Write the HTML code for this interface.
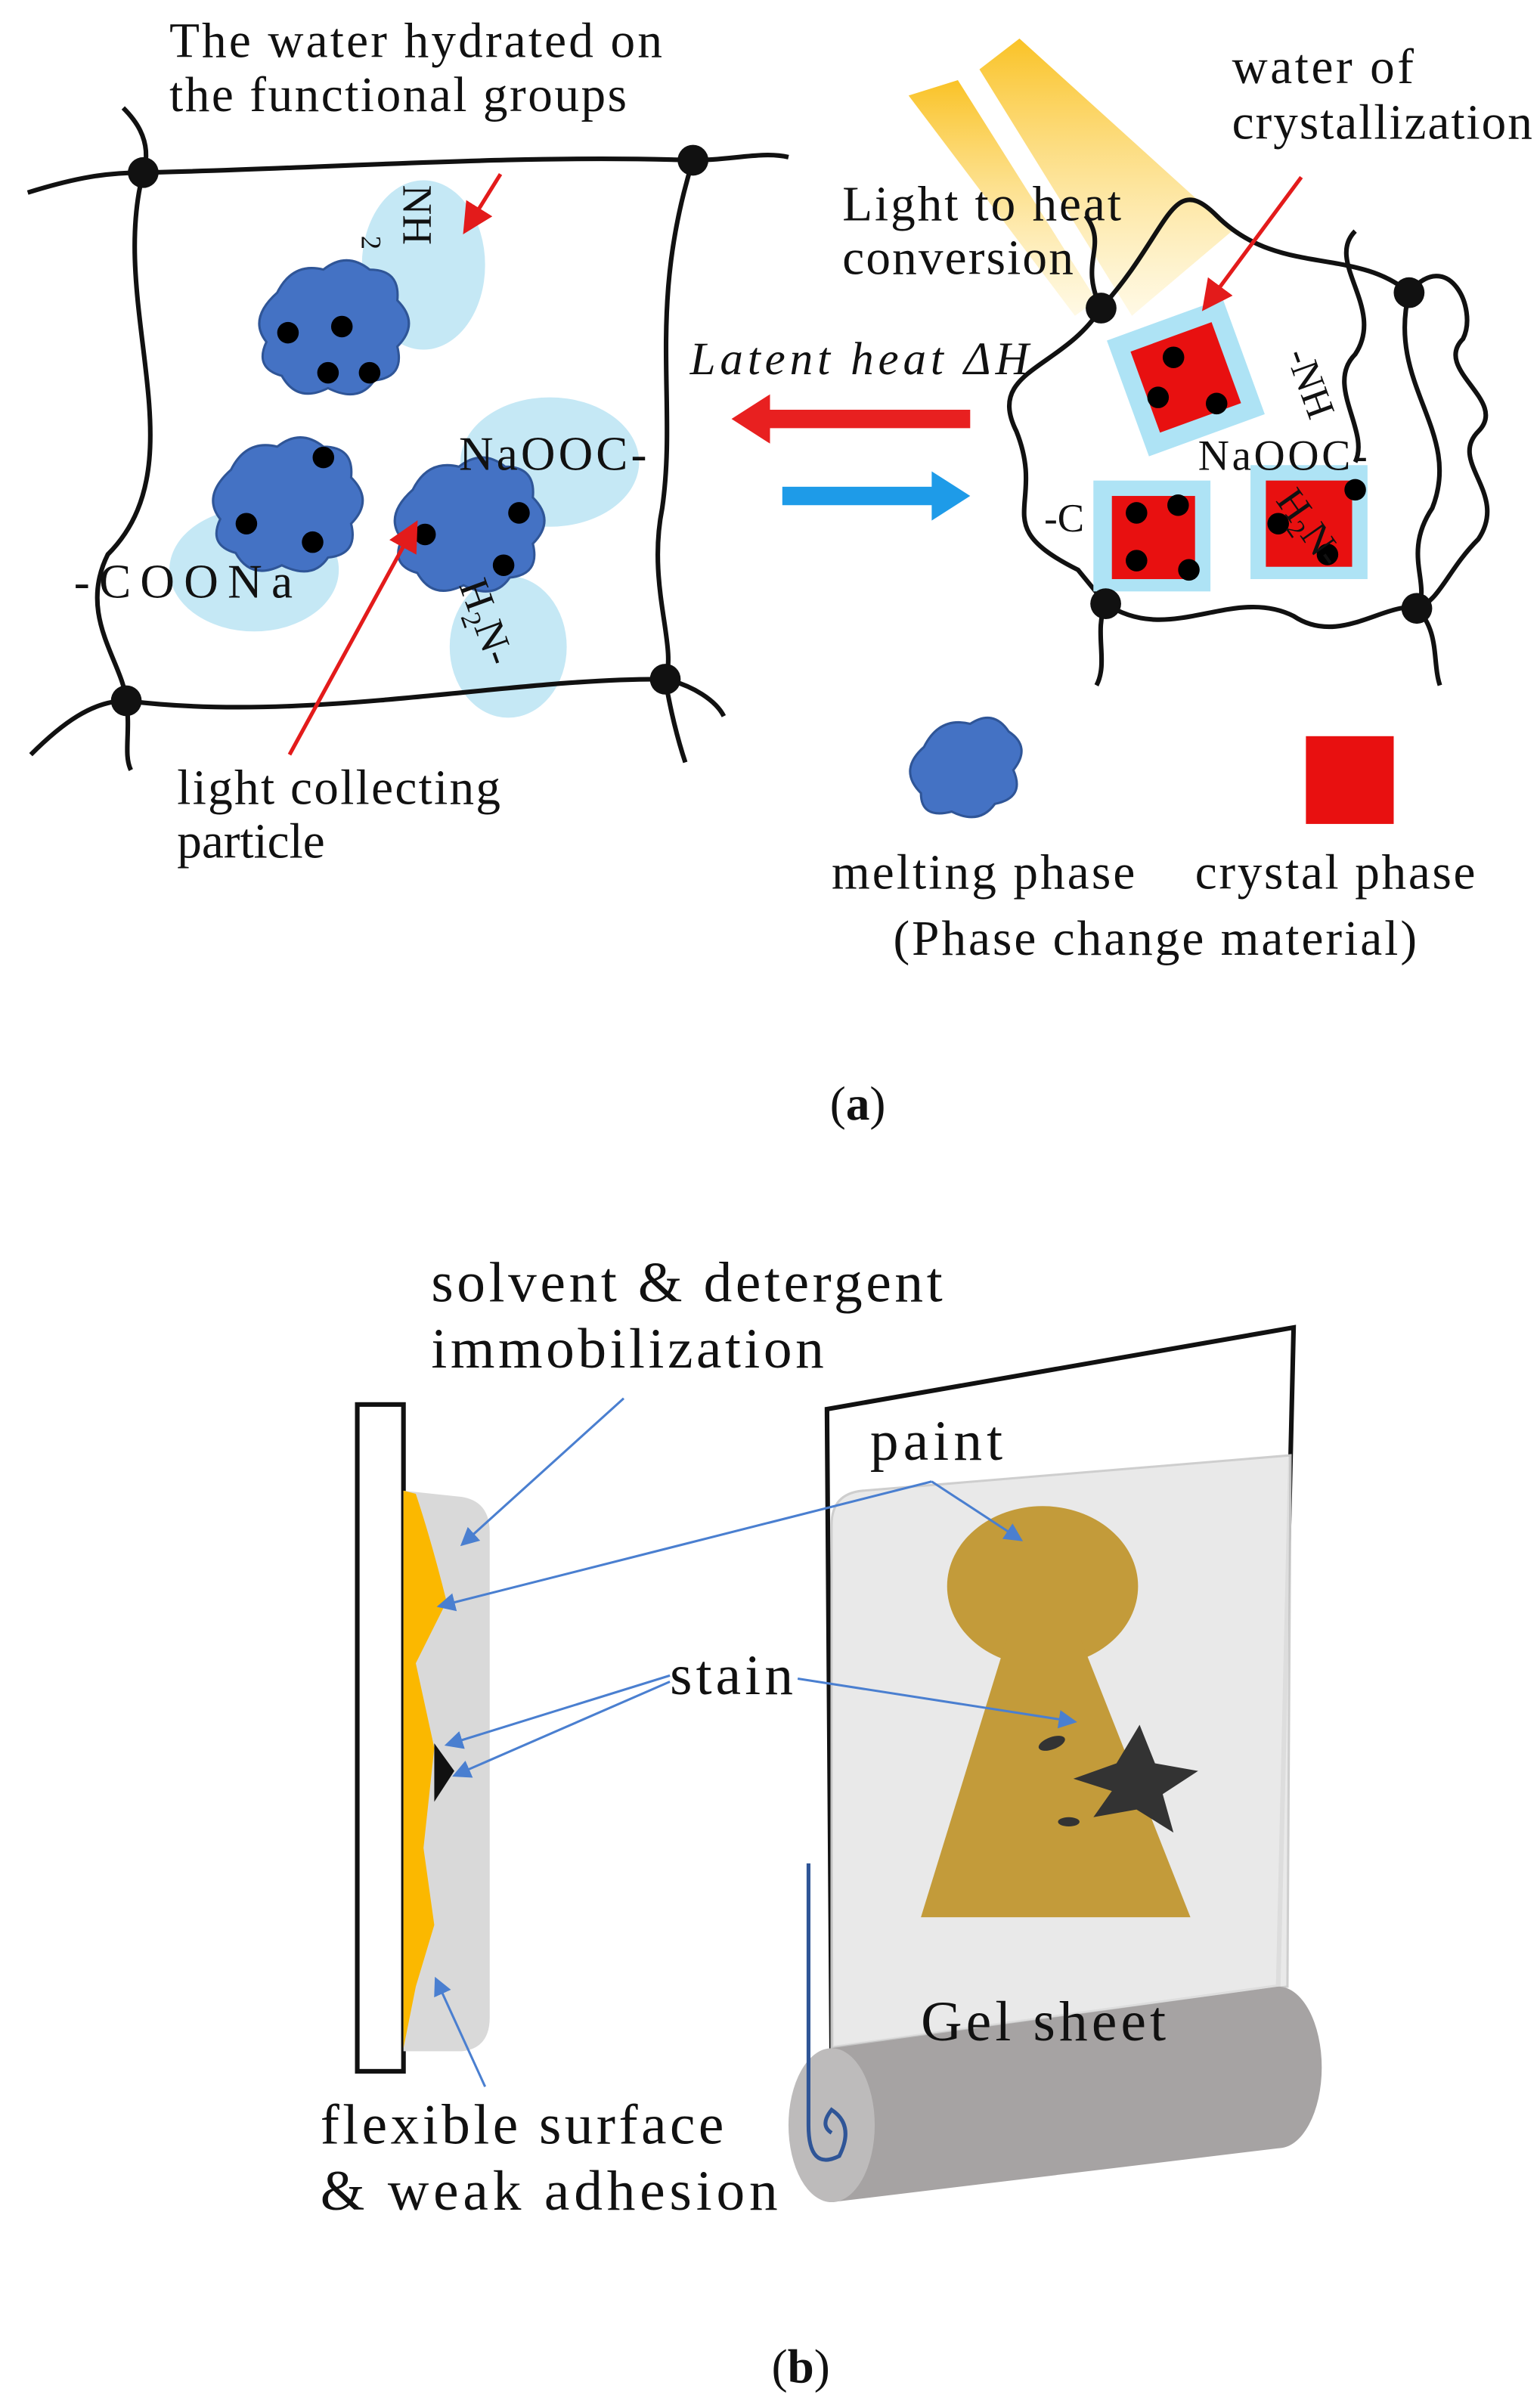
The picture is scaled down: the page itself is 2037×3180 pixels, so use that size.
<!DOCTYPE html>
<html><head><meta charset="utf-8"><style>
html,body{margin:0;padding:0;background:#fff}
svg{display:block}
text{font-family:"Liberation Serif",serif;fill:#111}
</style></head><body>
<svg width="2037" height="3180" viewBox="0 0 1000 1561" xmlns="http://www.w3.org/2000/svg">
<defs>
<linearGradient id="beam" x1="0" y1="0" x2="0" y2="1">
<stop offset="0" stop-color="#f9b800"/><stop offset="1" stop-color="#fff4cc" stop-opacity="0.6"/></linearGradient>
<marker id="ab" markerWidth="8" markerHeight="8" refX="7" refY="4" orient="auto"><path d="M0,0 L8,4 L0,8 z" fill="#4a7fd0"/></marker>
<marker id="ar" markerWidth="8" markerHeight="8" refX="7" refY="4" orient="auto"><path d="M0,0 L8,4 L0,8 z" fill="#e31b1b"/></marker>
</defs>
<rect width="1000" height="1561" fill="#fff"/>

<g fill="#bfe6f4" opacity="0.9">
<ellipse cx="275" cy="172" rx="40" ry="55"/>
<ellipse cx="165" cy="370" rx="55" ry="40"/>
<ellipse cx="357" cy="300" rx="58" ry="42"/>
<ellipse cx="330" cy="420" rx="38" ry="46"/>
</g>
<g fill="none" stroke="#111" stroke-width="3">
<path d="M18,125 C50,115 70,112 93,112 C200,110 330,100 450,104 C475,104 495,98 512,102"/>
<path d="M93,112 C70,200 130,300 70,360 C50,400 80,430 82,455"/>
<path d="M450,104 C420,200 440,260 430,330 C420,380 440,420 432,441"/>
<path d="M20,490 C40,470 60,455 82,455 C200,470 330,440 432,441 C450,445 465,455 470,465"/>
<path d="M93,112 C100,90 85,75 80,70"/>
<path d="M82,455 C85,475 80,490 85,500"/>
<path d="M432,441 C435,460 440,480 445,495"/>
</g>
<g fill="#111"><circle cx="93" cy="112" r="10"/><circle cx="450" cy="104" r="10"/><circle cx="82" cy="455" r="10"/><circle cx="432" cy="441" r="10"/></g>
<g fill="#4472c4" stroke="#2f5597" stroke-width="1.5">
<path d="M180,190 q10,-20 30,-15 q15,-12 30,0 q20,0 18,20 q15,15 0,30 q5,20 -15,22 q-10,15 -30,5 q-20,10 -30,-8 q-18,-5 -10,-22 q-12,-15 7,-32z"/>
<path d="M150,305 q10,-20 30,-15 q15,-12 30,0 q20,0 18,20 q15,15 0,30 q5,20 -15,22 q-10,15 -30,5 q-20,10 -30,-8 q-18,-5 -10,-22 q-12,-15 7,-32z"/>
<path d="M268,318 q10,-20 30,-15 q15,-12 30,0 q20,0 18,20 q15,15 0,30 q5,20 -15,22 q-10,15 -30,5 q-20,10 -30,-8 q-18,-5 -10,-22 q-12,-15 7,-32z"/>
</g>
<g fill="#000">
<circle cx="187" cy="216" r="7"/><circle cx="222" cy="212" r="7"/><circle cx="240" cy="242" r="7"/><circle cx="213" cy="242" r="7"/>
<circle cx="210" cy="297" r="7"/><circle cx="160" cy="340" r="7"/><circle cx="203" cy="352" r="7"/>
<circle cx="276" cy="347" r="7"/><circle cx="337" cy="333" r="7"/><circle cx="327" cy="367" r="7"/>
</g>
<text x="110" y="37" font-size="32" textLength="320" lengthAdjust="spacing">The water hydrated on</text>
<text x="110" y="72" font-size="32" textLength="297" lengthAdjust="spacing">the functional groups</text>
<text x="262" y="120" font-size="27" transform="rotate(90 262 120)">NH</text>
<text x="235" y="153" font-size="18" transform="rotate(90 235 153)">2</text>
<text x="298" y="305" font-size="31" textLength="122" lengthAdjust="spacing">NaOOC-</text>
<text x="48" y="388" font-size="31" textLength="142" lengthAdjust="spacing">-COONa</text>
<text x="298" y="380" font-size="27" transform="rotate(70 298 380)">H<tspan font-size="18" dy="6">2</tspan><tspan dy="-6">N-</tspan></text>
<line x1="325" y1="113" x2="302" y2="150" stroke="#e31b1b" stroke-width="2.5" marker-end="url(#ar)"/>
<line x1="188" y1="490" x2="270" y2="340" stroke="#e31b1b" stroke-width="2.5" marker-end="url(#ar)"/>
<text x="115" y="522" font-size="32" textLength="210" lengthAdjust="spacing">light collecting</text>
<text x="115" y="557" font-size="32">particle</text>

<polygon points="630,266 500,266 500,256 475,272 500,288 500,278 630,278" fill="#e82020"/>
<polygon points="508,316 605,316 605,306 630,322 605,338 605,328 508,328" fill="#1e9be8"/>
<text x="448" y="243" font-size="30" font-style="italic" textLength="220" lengthAdjust="spacing">Latent heat ΔH</text>

<polygon points="590,62 622,52 712,195 698,205" fill="url(#beam)" opacity="0.85"/>
<polygon points="636,45 662,25 800,150 735,205" fill="url(#beam)" opacity="0.85"/>
<g fill="none" stroke="#111" stroke-width="3">
<path d="M715,200 C690,240 640,240 660,280 C680,330 640,340 700,370 L718,392"/>
<path d="M715,200 C760,150 760,110 790,140 C830,180 880,160 915,190"/>
<path d="M915,190 C900,250 950,280 930,330 C910,360 930,380 920,395"/>
<path d="M718,392 C760,420 800,380 840,400 C870,420 900,390 920,395"/>
<path d="M915,190 C940,160 960,200 950,220 C930,240 980,260 960,280 C940,300 980,320 960,350 C940,370 935,390 920,395"/>
<path d="M880,150 C860,170 900,200 880,230 C860,250 890,280 880,300"/>
<path d="M718,392 C710,410 720,430 712,445"/>
<path d="M920,395 C935,410 930,430 935,445"/>
<path d="M715,200 C700,170 720,160 705,140"/>
</g>
<g>
<g transform="rotate(-20 770 245)"><rect x="730" y="205" width="80" height="80" fill="#aee3f5"/><rect x="742" y="217" width="56" height="56" fill="#e81010"/></g>
<rect x="710" y="312" width="76" height="72" fill="#aee3f5"/><rect x="722" y="322" width="54" height="54" fill="#e81010"/>
<rect x="812" y="302" width="76" height="74" fill="#aee3f5"/><rect x="822" y="312" width="56" height="56" fill="#e81010"/>
</g>
<g fill="#000">
<circle cx="762" cy="232" r="7"/><circle cx="752" cy="258" r="7"/><circle cx="790" cy="262" r="7"/>
<circle cx="738" cy="333" r="7"/><circle cx="765" cy="328" r="7"/><circle cx="738" cy="364" r="7"/><circle cx="772" cy="370" r="7"/>
<circle cx="880" cy="318" r="7"/><circle cx="830" cy="340" r="7"/><circle cx="862" cy="360" r="7"/>
</g>
<g fill="#111"><circle cx="715" cy="200" r="10"/><circle cx="915" cy="190" r="10"/><circle cx="718" cy="392" r="10"/><circle cx="920" cy="395" r="10"/></g>
<text x="835" y="230" font-size="26" transform="rotate(70 835 230)">-NH</text>
<text x="778" y="305" font-size="28" textLength="110" lengthAdjust="spacing">NaOOC-</text>
<text x="678" y="345" font-size="26">-C</text>
<text x="828" y="325" font-size="26" transform="rotate(55 828 325)">H<tspan font-size="17" dy="5">2</tspan><tspan dy="-5">N-</tspan></text>
<text x="800" y="54" font-size="32" textLength="118" lengthAdjust="spacing">water of</text>
<text x="800" y="90" font-size="32" textLength="195" lengthAdjust="spacing">crystallization</text>
<text x="547" y="143" font-size="32" textLength="181" lengthAdjust="spacing">Light to heat</text>
<text x="547" y="178" font-size="32" textLength="150" lengthAdjust="spacing">conversion</text>
<line x1="845" y1="115" x2="782" y2="200" stroke="#e31b1b" stroke-width="2.5" marker-end="url(#ar)"/>

<path d="M600,485 q10,-20 30,-15 q15,-10 25,5 q15,10 3,25 q8,18 -12,22 q-10,14 -28,5 q-20,5 -20,-12 q-15,-15 2,-30z" fill="#4472c4" stroke="#2f5597" stroke-width="1.5"/>
<rect x="848" y="478" width="57" height="57" fill="#e81010"/>
<text x="540" y="577" font-size="32" textLength="197" lengthAdjust="spacing">melting phase</text>
<text x="776" y="577" font-size="32" textLength="182" lengthAdjust="spacing">crystal phase</text>
<text x="580" y="620" font-size="32" textLength="340" lengthAdjust="spacing">(Phase change material)</text>
<text x="557" y="727" font-size="31" text-anchor="middle">(<tspan font-weight="bold">a</tspan>)</text>

<rect x="232" y="912" width="30" height="433" fill="#fff" stroke="#111" stroke-width="3"/>
<path d="M262,968 L300,972 Q318,975 318,995 L318,1310 Q318,1330 300,1332 L262,1332 z" fill="#d9d9d9"/>
<path d="M262,968 L270,970 Q280,1000 290,1040 L270,1080 L282,1135 L275,1200 L282,1250 L270,1290 L262,1330 z" fill="#fbb800"/>
<path d="M282,1132 L295,1150 L282,1170 z" fill="#111"/>
<path d="M537,915 L840,862 L830,1290 L540,1330 z" fill="#fff" stroke="#111" stroke-width="3"/>
<path d="M540,990 Q540,970 560,968 L838,945 L836,1290 L540,1330 z" fill="#e8e8e8" stroke="#ccc" stroke-width="1.5" opacity="0.95"/>
<ellipse cx="677" cy="1030" rx="62" ry="52" fill="#c39b3a"/>
<polygon points="655,1060 700,1060 773,1245 598,1245" fill="#c39b3a"/>
<path d="M697,1155 L725,1145 L740,1120 L750,1145 L778,1150 L755,1165 L762,1190 L738,1175 L710,1180 L722,1163z" fill="#333"/>
<ellipse cx="683" cy="1132" rx="9" ry="4" fill="#333" transform="rotate(-20 683 1132)"/>
<ellipse cx="694" cy="1183" rx="7" ry="3" fill="#333"/>
<path d="M540,1330 L830,1290 A28,52 0 0 1 830,1395 L540,1430 z" fill="#a6a3a3"/>
<ellipse cx="540" cy="1380" rx="28" ry="50" fill="#bdbbbb"/>
<path d="M525,1210 L525,1380 Q525,1410 545,1400 Q555,1380 540,1370 Q532,1380 540,1385" fill="none" stroke="#2f5597" stroke-width="2.5"/>
<text x="598" y="1325" font-size="37" textLength="159" lengthAdjust="spacing">Gel sheet</text>
<text x="280" y="845" font-size="37" textLength="332" lengthAdjust="spacing">solvent &amp; detergent</text>
<text x="280" y="888" font-size="37" textLength="255" lengthAdjust="spacing">immobilization</text>
<text x="565" y="948" font-size="37" textLength="86" lengthAdjust="spacing">paint</text>
<text x="435" y="1100" font-size="37" textLength="80" lengthAdjust="spacing">stain</text>
<text x="208" y="1392" font-size="37" textLength="262" lengthAdjust="spacing">flexible surface</text>
<text x="208" y="1435" font-size="37" textLength="297" lengthAdjust="spacing">&amp; weak adhesion</text>
<g stroke="#4a7fd0" stroke-width="1.5" fill="none">
<line x1="405" y1="908" x2="300" y2="1003" marker-end="url(#ab)"/>
<polyline points="605,962 285,1043" marker-end="url(#ab)"/>
<line x1="605" y1="962" x2="663" y2="1000" marker-end="url(#ab)"/>
<line x1="435" y1="1088" x2="290" y2="1133" marker-end="url(#ab)"/>
<line x1="435" y1="1092" x2="295" y2="1153" marker-end="url(#ab)"/>
<line x1="518" y1="1090" x2="698" y2="1118" marker-end="url(#ab)"/>
<line x1="315" y1="1355" x2="283" y2="1285" marker-end="url(#ab)"/>
</g>
<text x="520" y="1547" font-size="31" text-anchor="middle">(<tspan font-weight="bold">b</tspan>)</text>
</svg>
</body></html>
